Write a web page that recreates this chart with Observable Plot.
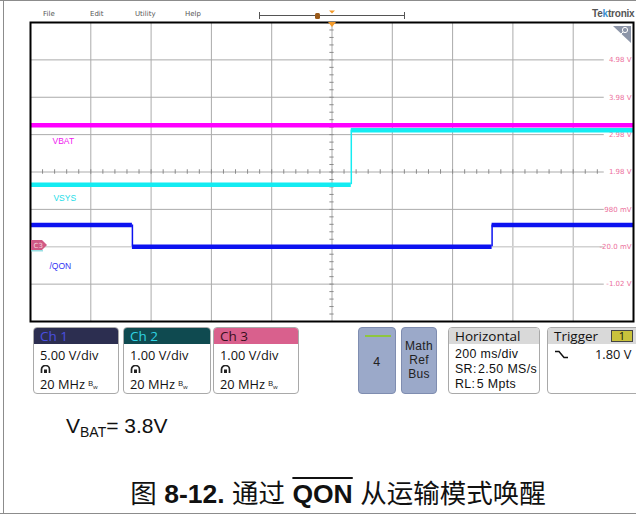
<!DOCTYPE html>
<html>
<head>
<meta charset="utf-8">
<script src="https://cdn.jsdelivr.net/npm/d3@7"></script>
<script src="https://cdn.jsdelivr.net/npm/@observablehq/plot@0.6"></script>
<style>
  html, body { margin: 0; padding: 0; background: #fff; }
  #root { position: relative; width: 636px; height: 514px; overflow: hidden; background: #fff; font-family: "Open Sans", "DejaVu Sans", sans-serif; }
  .abs { position: absolute; white-space: nowrap; }
  .menu { font-family: "DejaVu Sans", sans-serif; font-size: 7px; color: #555; top: 10px; }
  .box { position: absolute; box-sizing: border-box; border: 1px solid #a9a9a9; border-radius: 4px; background: #fff; overflow: hidden; }
  .hdr { position: absolute; left: 0; right: 0; top: 0; height: 16px; font-size: 13.5px; line-height: 16px; padding-left: 6px; }
  .ln { position: absolute; left: 6px; font-size: 12.8px; line-height: 12px; color: #111; }
  .tight { font-family: "Liberation Sans", Arial, sans-serif; font-size: 12.4px; letter-spacing: 0.35px; }
  .bw { font-size: 8px; position: relative; top: -3px; margin-left: 3px; }
  .bw sub { font-size: 6px; }
  .btn { position: absolute; box-sizing: border-box; border: 1px solid #7f8db0; border-radius: 4px; background: #9ba9c9; }
  .ctr { position: absolute; left: 0; right: 0; text-align: center; font-family: "Liberation Sans", Arial, sans-serif; font-size: 12px; line-height: 12px; color: #222; letter-spacing: 0.3px; }
</style>
</head>
<body>
<div id="root"></div>
<script>
// ---- data (time in ms, voltage on the Ch3 graticule scale) ----
const timeGrid = [-800, -600, -400, -200, 0, 200, 400, 600, 800];
const voltTicks = [4.98, 3.98, 2.98, 1.98, 0.98, -0.02, -1.02];
const voltLabels = ["4.98 V", "3.98 V", "2.98 V", "1.98 V", "980 mV", "-20.0 mV", "-1.02 V"];

const vbatTimes = [-1000, 1000];
const vbatLevels = [3.23];
const vsysTimes = [-1000, 64, 1000];
const vsysLevels = [1.64, 3.10];
const qonTimes = [-1000, -662, 531, 1000];
const qonLevels = [0.563, -0.02, 0.563];

const traceNames = ["VBAT", "VSYS", "/QON"];
const traceColors = ["#ff00ff", "#14ecf2", "#0c12f0"];
const labelColors = ["#f018f0", "#22dde8", "#3434f4"];
const labelTimes = [-927, -924, -937];
const labelVolts = [2.80, 1.27, -0.53];

// ---- build segments ----
function segs(times, levels, name) {
  const out = [];
  for (let i = 0; i < levels.length; i++) out.push({name, t1: times[i], t2: times[i + 1], v: levels[i]});
  return out;
}
function edges(times, levels, name) {
  const out = [];
  for (let i = 1; i < levels.length; i++) out.push({name, t: times[i], v1: levels[i - 1], v2: levels[i]});
  return out;
}
const vsysSeg = segs(vsysTimes, vsysLevels, "VSYS");
const vbatSeg = segs(vbatTimes, vbatLevels, "VBAT");
const qonSeg = segs(qonTimes, qonLevels, "/QON");
const allEdges = [...edges(vsysTimes, vsysLevels, "VSYS"), ...edges(qonTimes, qonLevels, "/QON")];
const labels = traceNames.map((n, i) => ({name: n, t: labelTimes[i], v: labelVolts[i], c: labelColors[i]}));
const colorOf = n => traceColors[traceNames.indexOf(n)];

const gridEnd = 903;
const hMinor = d3.range(-960, gridEnd, 40);
const vMinor = d3.range(-1.82, 5.98, 0.2);

const chart = Plot.plot({
  width: 636, height: 323,
  marginLeft: 30, marginRight: 3, marginTop: 22, marginBottom: 2,
  x: {domain: [-1000, 1000], axis: null},
  y: {domain: [-2.02, 5.98], axis: null},
  style: {background: "transparent", overflow: "visible"},
  marks: [
    Plot.ruleX(timeGrid, {x: d => d, stroke: "#ababab", strokeWidth: 1}),
    Plot.ruleY(voltTicks.filter(v => v !== -0.02), {y: d => d, x1: -1000, x2: gridEnd, stroke: "#ababab", strokeWidth: 1}),
    Plot.ruleY([-0.02], {y: d => d, x1: -1000, x2: gridEnd, stroke: "#d2d2d2", strokeWidth: 1.6}),
    Plot.ruleX(hMinor, {x: d => d, y1: 1.92, y2: 2.04, stroke: "#8a8a8a", strokeWidth: 1}),
    Plot.ruleY(vMinor, {y: d => d, x1: -7, x2: 7, stroke: "#8a8a8a", strokeWidth: 1}),
    Plot.text(voltTicks, {x: () => 1000, y: d => d, text: (d, i) => voltLabels[i], textAnchor: "end", dx: -2, fill: "#ec6f9c", fontSize: 7, fontFamily: "DejaVu Sans"}),
    // traces
    Plot.ruleY(vsysSeg, {x1: "t1", x2: "t2", y: "v", stroke: d => colorOf(d.name), strokeWidth: 4.5}),
    Plot.ruleY(vbatSeg, {x1: "t1", x2: "t2", y: "v", stroke: d => colorOf(d.name), strokeWidth: 4.5}),
    Plot.ruleY(qonSeg, {x1: "t1", x2: "t2", y: "v", stroke: d => colorOf(d.name), strokeWidth: 4.5}),
    Plot.ruleX(allEdges, {x: "t", y1: "v1", y2: "v2", stroke: d => colorOf(d.name), strokeWidth: 1.5}),
    Plot.text(labels, {x: "t", y: "v", text: "name", fill: "c", textAnchor: "start", fontSize: 8.5, fontFamily: "Liberation Sans"}),
    Plot.frame({stroke: "#000", strokeWidth: 2})
  ]
});

const root = document.getElementById("root");
chart.style.position = "absolute";
chart.style.left = "0px";
chart.style.top = "0px";
root.appendChild(chart);

function add(html) { root.insertAdjacentHTML("beforeend", html); }

// page frame
add(`<div class="abs" style="left:0;top:0;width:636px;height:1px;background:#8c8c8c"></div>`);
add(`<div class="abs" style="left:3px;top:0;width:1px;height:514px;background:#8c8c8c"></div>`);
add(`<div class="abs" style="left:0;top:513px;width:636px;height:1px;background:#8c8c8c"></div>`);

// menu
[["File", 43], ["Edit", 90], ["Utility", 135], ["Help", 185]].forEach(([t, x]) =>
  add(`<div class="abs menu" style="left:${x}px">${t}</div>`));

// overlay decorations (svg)
add(`<svg class="abs" style="left:0;top:0" width="636" height="330">
  <line x1="259" y1="15.5" x2="404" y2="15.5" stroke="#555" stroke-width="1"/>
  <line x1="259.5" y1="12" x2="259.5" y2="19" stroke="#555" stroke-width="1"/>
  <line x1="404.5" y1="12" x2="404.5" y2="19" stroke="#555" stroke-width="1"/>
  <rect x="315" y="13" width="5" height="6" rx="1.5" fill="#9a5a1a"/>
  <polygon points="329,10.5 335,10.5 332,13.5" fill="#f39a2a"/>
  <polygon points="328,22 336,22 332,27" fill="#f39a2a"/>
  <polygon points="613,26 631,26 631,43" fill="#8c95a8"/>
  <circle cx="625" cy="30" r="2.6" fill="none" stroke="#fff" stroke-width="1"/>
  <line x1="623" y1="32" x2="619" y2="36" stroke="#fff" stroke-width="1"/>
  <polygon points="31,240 42,240 47,245 42,250 31,250" fill="#d05a85"/>
  <line x1="31" y1="250.8" x2="43" y2="250.8" stroke="#7fd8dc" stroke-width="1.2"/>
  <text x="33.5" y="247.5" font-size="7" fill="#f4d0dc" font-family="DejaVu Sans">C3</text>
  <line x1="29" y1="355" x2="33" y2="355" stroke="#999" stroke-width="1"/>
</svg>`);

// Tektronix logo
add(`<div class="abs" style="left:592px;top:8px;font-family:'Liberation Sans',sans-serif;font-weight:bold;font-size:10px;color:#555;letter-spacing:-0.2px">Te<span style="color:#3a8fd0">k</span>tronix</div>`);

// channel boxes
const probe = `<svg width="11" height="9" style="position:absolute;left:6px;top:0"><path d="M1.5 8 V4.5 A4 4 0 0 1 9.5 4.5 V8" fill="none" stroke="#222" stroke-width="1.7"/><rect x="4" y="4.5" width="3" height="3.5" fill="#222"/></svg>`;
function chBox(left, width, title, hdrBg, hdrFg, vdiv) {
  add(`<div class="box" style="left:${left}px;top:327px;width:${width}px;height:67px">
    <div class="hdr" style="background:${hdrBg};color:${hdrFg}">${title}</div>
    <div class="ln" style="top:21px">${vdiv}</div>
    <div style="position:absolute;left:0;top:37px;width:20px;height:9px">${probe}</div>
    <div class="ln" style="top:50px">20 MHz<span class="bw">B<sub>w</sub></span></div>
  </div>`);
}
chBox(33, 86, "Ch 1", "#2c2e50", "#4a4ee0", "5.00 V/div");
chBox(123, 88, "Ch 2", "#0f4a50", "#2fd3e3", "1.00 V/div");
chBox(213, 86, "Ch 3", "#d9608d", "#3a0f20", "1.00 V/div");

// "4" and Math/Ref/Bus buttons
add(`<div class="btn" style="left:358px;top:327px;width:38px;height:67px">
  <div style="position:absolute;left:6px;top:7px;width:26px;height:2px;background:#8ec63f"></div>
  <div class="ctr" style="top:28px;font-size:12.5px">4</div></div>`);
add(`<div class="btn" style="left:401px;top:327px;width:36px;height:67px">
  <div class="ctr" style="top:12px">Math</div>
  <div class="ctr" style="top:26px">Ref</div>
  <div class="ctr" style="top:40px">Bus</div></div>`);

// Horizontal box
add(`<div class="box" style="left:448px;top:327px;width:92px;height:67px">
  <div class="hdr" style="background:#d9d9d9;color:#111">Horizontal</div>
  <div class="ln tight" style="top:20px">200 ms/div</div>
  <div class="ln tight" style="top:35px">SR:&#8202;2.50 MS/s</div>
  <div class="ln tight" style="top:50px">RL:&#8202;5 Mpts</div></div>`);

// Trigger box
add(`<div class="box" style="left:547px;top:327px;width:100px;height:67px">
  <div class="hdr" style="background:#d9d9d9;color:#111">Trigger</div>
  <div style="position:absolute;left:63px;top:2px;width:22px;height:12px;box-sizing:border-box;border:1px solid #444;background:#c9c23c;font-size:11px;line-height:10px;text-align:center;color:#111">1</div>
  <svg style="position:absolute;left:7px;top:22px" width="16" height="10"><polyline points="0,1.5 4,1.5 9,7.5 13,7.5" fill="none" stroke="#111" stroke-width="1.5"/></svg>
  <div class="ln" style="left:47px;top:20px">1.80 V</div></div>`);

// notes & caption
add(`<div class="abs" style="left:66px;top:414px;font-family:'Liberation Sans',Arial,sans-serif;font-size:21px;color:#111">V<sub style="font-size:14px;vertical-align:-4px">BAT</sub>= 3.8V</div>`);
add(`<div class="abs" style="left:0;width:676px;top:472px;text-align:center;font-family:'Liberation Sans','Noto Sans CJK SC',sans-serif;font-size:26.5px;color:#111">
  <span style="font-family:'Noto Sans CJK SC'">图</span> <b>8-12.</b> <span style="font-family:'Noto Sans CJK SC'">通过</span> <b style="text-decoration:overline;text-decoration-thickness:1.5px">QON</b> <span style="font-family:'Noto Sans CJK SC'">从运输模式唤醒</span></div>`);
</script>
</body>
</html>
